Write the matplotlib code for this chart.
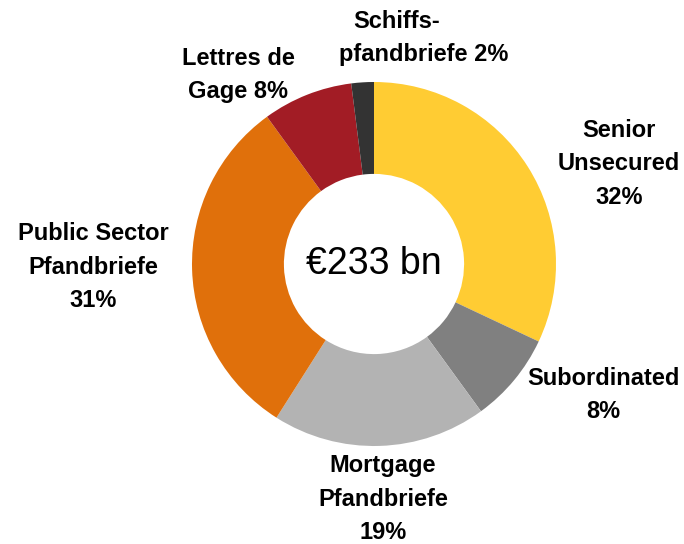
import matplotlib
matplotlib.use("Agg")
import matplotlib.pyplot as plt

categories = ["Senior\nUnsecured", "Subordinated", "Mortgage\nPfandbriefe",
              "Public Sector\nPfandbriefe", "Lettres de\nGage", "Schiffs-\npfandbriefe"]
values = [32, 8, 19, 31, 8, 2]
colors = ["#FFCC33", "#808080", "#B3B3B3", "#E0700B", "#A21C25", "#333333"]
center_label = "€233 bn"

label_texts = [
    "Senior\nUnsecured\n32%",
    "Subordinated\n8%",
    "Mortgage\nPfandbriefe\n19%",
    "Public Sector\nPfandbriefe\n31%",
    "Lettres de\nGage 8%",
]
label_pos = [(619, 380), (603, 149), (383, 45), (93, 277), (238, 469)]

fig = plt.figure(figsize=(6.84, 5.44), dpi=100)
ax = fig.add_axes([0, 0, 1, 1])

cx, cy, R = 374, 280, 182
ax.pie(values, colors=colors, startangle=90, counterclock=False,
       center=(cx, cy), radius=R, frame=True,
       wedgeprops=dict(width=R * 0.505, linewidth=0))
ax.set_xlim(0, 684)
ax.set_ylim(0, 544)
ax.set_aspect("equal")
ax.axis("off")

ax.text(cx, cy, center_label, ha="center", va="center", fontsize=27,
        family="Liberation Sans")
kw = dict(ha="center", va="center", fontsize=17, fontweight="bold",
          family="Liberation Sans", linespacing=1.56)
for t, (x, y) in zip(label_texts, label_pos):
    ax.text(x, y, t, **kw)
# Schiffspfandbriefe label (two lines, offset as in the original)
ax.text(397, 522, "Schiffs-", **kw)
ax.text(424, 490, "pfandbriefe %d%%" % values[5], **kw)

fig.savefig("out.png", dpi=100)
